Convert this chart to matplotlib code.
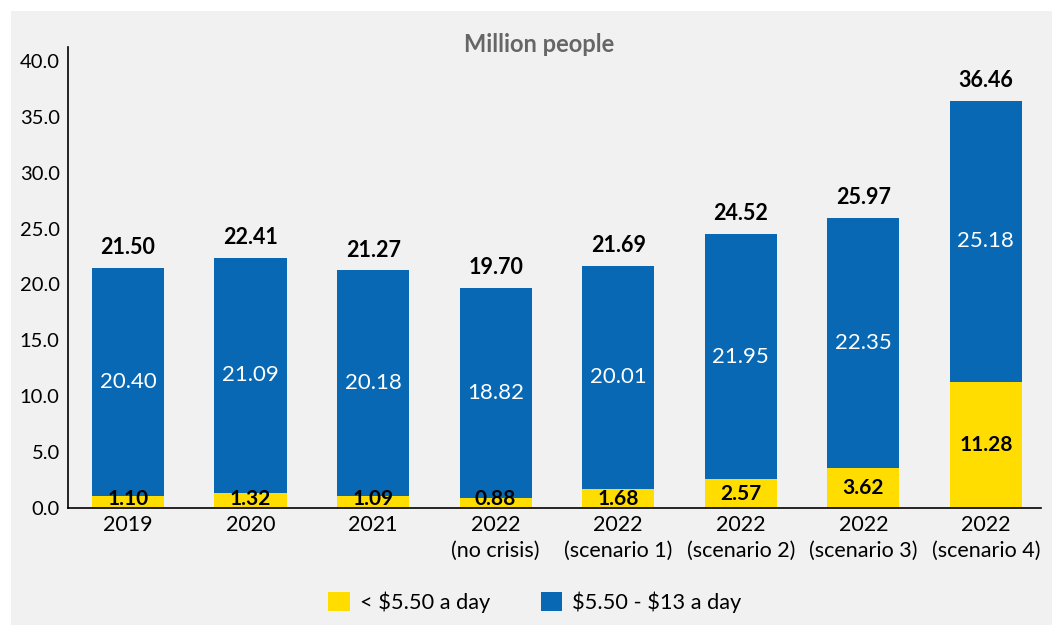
import matplotlib
matplotlib.use("Agg")
import matplotlib.pyplot as plt
from matplotlib.patches import Patch, Rectangle

categories = ["2019", "2020", "2021", "2022\n(no crisis)", "2022\n(scenario 1)",
              "2022\n(scenario 2)", "2022\n(scenario 3)", "2022\n(scenario 4)"]
below_550 = [1.10, 1.32, 1.09, 0.88, 1.68, 2.57, 3.62, 11.28]
between_550_13 = [20.40, 21.09, 20.18, 18.82, 20.01, 21.95, 22.35, 25.18]
totals = [21.50, 22.41, 21.27, 19.70, 21.69, 24.52, 25.97, 36.46]
yticks = [0, 5, 10, 15, 20, 25, 30, 35, 40]
series_names = [r"< \$5.50 a day", r"\$5.50 - \$13 a day"]

YELLOW = "#ffdd00"
BLUE = "#0868b3"
BG = "#f1f1f1"

plt.rcParams['font.family'] = ['Lato', 'DejaVu Sans']

fig = plt.figure(figsize=(10.52, 6.25), dpi=100)
fig.patch.set_facecolor("white")
fig.patches.append(Rectangle((11/1052, 0), 1 - 11/1052, 1 - 11/625,
                             transform=fig.transFigure, facecolor=BG,
                             edgecolor="none", zorder=-10))

ax = fig.add_axes([68/1052, 1 - 508/625, (1041 - 68)/1052, (508 - 47)/625])
ax.set_facecolor(BG)

x = list(range(len(categories)))
w = 0.59
ax.bar(x, below_550, width=w, color=YELLOW, zorder=2)
ax.bar(x, between_550_13, width=w, bottom=below_550, color=BLUE, zorder=2)

for i in x:
    y0 = below_550[i]
    ax.text(i, max(y0 / 2, 0.8), f"{y0:.2f}", ha="center", va="center",
            fontsize=15, fontweight="bold", color="black", zorder=3)
    ax.text(i, y0 + between_550_13[i] / 2, f"{between_550_13[i]:.2f}",
            ha="center", va="center", fontsize=16, color="white", zorder=3)
    ax.annotate(f"{totals[i]:.2f}", (i, y0 + between_550_13[i]),
                xytext=(0, 7), textcoords="offset points", ha="center",
                va="bottom", fontsize=15.5, fontweight="bold", color="black")

ax.set_xlim(-0.49, 7.45)
ax.set_ylim(0, 41.25)
ax.set_yticks(yticks)
ax.set_yticklabels([f"{v:.1f}" for v in yticks], fontsize=14.5)
ax.set_xticks(x)
ax.set_xticklabels(categories, fontsize=15.5, linespacing=1.35)
ax.tick_params(axis="both", length=0, colors="black")
ax.tick_params(axis="x", pad=5)
ax.tick_params(axis="y", pad=6)
for s in ["top", "right"]:
    ax.spines[s].set_visible(False)
for s in ["left", "bottom"]:
    ax.spines[s].set_color("black")
    ax.spines[s].set_linewidth(1.2)

fig.text(539/1052, 1 - 45/625, "Million people", ha="center", va="center",
         fontsize=17, fontweight="bold", color="#666666")

handles = [Patch(facecolor=YELLOW, edgecolor="none"),
           Patch(facecolor=BLUE, edgecolor="none")]
fig.legend(handles, series_names, loc="center", bbox_to_anchor=(535/1052, 1 - 602/625),
           ncol=2, frameon=False, fontsize=15.7, handlelength=1.0, handleheight=1.0,
           columnspacing=2.3, handletextpad=0.46)

fig.savefig("out.png", dpi=100, facecolor=fig.get_facecolor())
